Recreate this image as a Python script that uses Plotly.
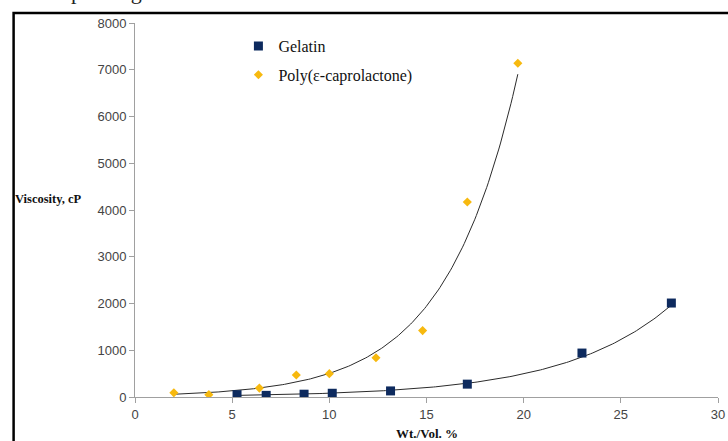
import numpy as np
import plotly.graph_objects as go

# Data
gelatin_x = [5.25, 6.75, 8.7, 10.15, 13.15, 17.1, 23.0, 27.6]
gelatin_y = [50, 35, 60, 80, 130, 275, 940, 2010]
pcl_x = [2.0, 3.8, 6.4, 8.3, 10.0, 12.4, 14.8, 17.1, 19.7]
pcl_y = [90, 50, 190, 470, 500, 840, 1420, 4170, 7140]

x_ticks = [0, 5, 10, 15, 20, 25, 30]
y_ticks = [0, 1000, 2000, 3000, 4000, 5000, 6000, 7000, 8000]

W, H = 728, 441
ML, MR, MT, MB = 134.5, 10, 23, 44
PW = W - ML - MR
PH = H - MT - MB


def px_x(p):
    return (p - ML) / PW


def px_y(p):
    # p = pixel distance from top of the page
    return (H - MB - p) / PH


def exp_fit(xs, ys):
    xs = np.asarray(xs, float)
    ys = np.asarray(ys, float)
    b, lna = np.polyfit(xs, np.log(ys), 1)
    xx = np.linspace(xs.min(), xs.max(), 200)
    return xx, np.exp(lna) * np.exp(b * xx)


gx, gy = exp_fit(gelatin_x, gelatin_y)
px, py = exp_fit(pcl_x, pcl_y)

fig = go.Figure()
fig.add_trace(go.Scatter(x=gx, y=gy, mode="lines", line=dict(color="#2b2b2b", width=1),
                         showlegend=False, hoverinfo="skip"))
fig.add_trace(go.Scatter(x=px, y=py, mode="lines", line=dict(color="#2b2b2b", width=1),
                         showlegend=False, hoverinfo="skip"))
fig.add_trace(go.Scatter(x=gelatin_x, y=gelatin_y, mode="markers", name="Gelatin",
                         legendgroup="g",
                         marker=dict(symbol="square", size=9, color="#0d2a5e")))
fig.add_trace(go.Scatter(x=pcl_x, y=pcl_y, mode="markers", name="Poly(ε-caprolactone)",
                         legendgroup="p",
                         marker=dict(symbol="diamond", size=7, color="#f7b90f")))

serif = "Liberation Serif, Times New Roman, serif"
sans = "Liberation Sans, Arial, sans-serif"

fig.update_layout(
    width=W, height=H,
    margin=dict(l=ML, r=MR, t=MT, b=MB, pad=0, autoexpand=False),
    paper_bgcolor="white", plot_bgcolor="white",
    showlegend=True,
    legend=dict(x=px_x(238), y=px_y(29), xanchor="left", yanchor="top",
                font=dict(family=serif, size=16, color="#111"),
                bgcolor="rgba(0,0,0,0)", tracegroupgap=5, itemwidth=30),
    xaxis=dict(range=[0, 30], tickvals=x_ticks, showgrid=False, zeroline=False,
               showline=True, linecolor="#a0a0a0", linewidth=1, automargin=False,
               ticks="outside", ticklen=5, tickcolor="#a0a0a0",
               tickfont=dict(family=sans, size=13, color="#444")),
    yaxis=dict(range=[0, 8000], tickvals=y_ticks, showgrid=False, zeroline=False,
               showline=True, linecolor="#a0a0a0", linewidth=1, automargin=False,
               ticks="outside", ticklen=5, tickcolor="#a0a0a0",
               tickfont=dict(family=sans, size=13, color="#444")),
    annotations=[
        dict(text="<b>Viscosity, cP</b>", xref="paper", yref="paper",
             x=px_x(12), y=px_y(199), xanchor="left", yanchor="middle",
             showarrow=False, font=dict(family=serif, size=12.5, color="#111")),
        dict(text="<b>Wt./Vol. %</b>", xref="paper", yref="paper",
             x=px_x(427), y=px_y(433), xanchor="center", yanchor="middle",
             showarrow=False, font=dict(family=serif, size=13, color="#111")),
        dict(text="effect depending on various mats.", xref="paper", yref="paper",
             x=px_x(-8), y=px_y(6), xanchor="left", yanchor="bottom",
             showarrow=False, font=dict(family=serif, size=22, color="#222")),
    ],
    shapes=[
        dict(type="rect", xref="paper", yref="paper",
             x0=px_x(13), x1=px_x(760), y0=px_y(H + 30), y1=px_y(13),
             line=dict(color="black", width=2.5), fillcolor="rgba(0,0,0,0)"),
    ],
)

fig.write_html("out.html", config={"displayModeBar": False},
               post_script="document.body.style.margin='0';document.body.style.overflow='hidden';")
